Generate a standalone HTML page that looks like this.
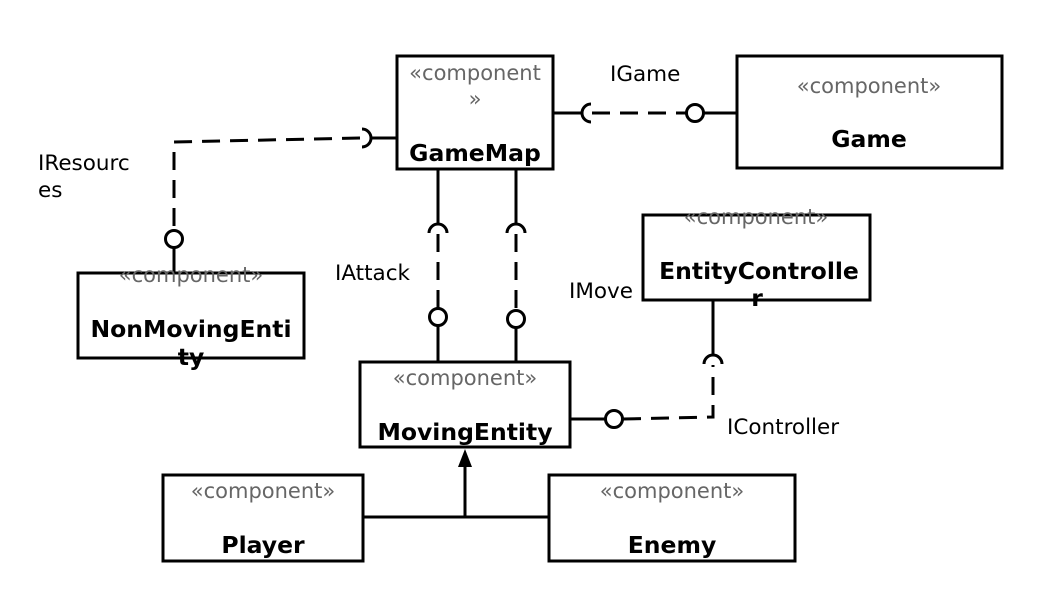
<!DOCTYPE html>
<html><head><style>
html,body{margin:0;padding:0;background:#fff;}
svg{display:block;}
.st{font-family:"DejaVu Sans","Liberation Sans",sans-serif;font-size:21px;fill:#666;text-anchor:middle;}
.nm{font-family:"DejaVu Sans","Liberation Sans",sans-serif;font-size:23.5px;font-weight:bold;fill:#000;text-anchor:middle;}
.lb{font-family:"DejaVu Sans","Liberation Sans",sans-serif;font-size:21.5px;fill:#000;}
</style></head><body>
<svg width="1057" height="595" viewBox="0 0 1057 595" xmlns="http://www.w3.org/2000/svg">
<g fill="none" stroke="#000" stroke-width="3">
<rect x="397" y="56" width="156" height="113"/>
<rect x="737" y="56" width="265" height="112"/>
<rect x="643" y="215" width="227" height="85"/>
<rect x="78" y="273" width="226" height="85"/>
<rect x="360" y="362" width="210" height="85"/>
<rect x="163" y="475" width="200" height="86"/>
<rect x="549" y="475" width="246" height="86"/>
</g>
<g fill="none" stroke="#000" stroke-width="3">
<line x1="553" y1="113" x2="582" y2="113"/>
<path d="M591 104 A9 9 0 0 0 591 122"/>
<line x1="592" y1="113" x2="686" y2="113" stroke-dasharray="18,10"/>
<circle cx="695" cy="113" r="8.5"/>
<line x1="704" y1="113" x2="737" y2="113"/>
<line x1="397" y1="138" x2="372" y2="138"/>
<path d="M362 129 A9 9 0 0 1 362 147"/>
<polyline points="360,138 174,142 174,230" stroke-dasharray="18,10"/>
<circle cx="174" cy="239" r="8.5"/>
<line x1="174" y1="248" x2="174" y2="273"/>
<line x1="438" y1="169" x2="438" y2="223"/>
<path d="M429 233 A9 9 0 0 1 447 233"/>
<line x1="438" y1="234" x2="438" y2="308" stroke-dasharray="18,10"/>
<circle cx="438" cy="317" r="8.5"/>
<line x1="438" y1="326" x2="438" y2="362"/>
<line x1="516" y1="169" x2="516" y2="223"/>
<path d="M507 233 A9 9 0 0 1 525 233"/>
<line x1="516" y1="234" x2="516" y2="310" stroke-dasharray="18,10"/>
<circle cx="516" cy="319" r="8.5"/>
<line x1="516" y1="328" x2="516" y2="362"/>
<line x1="570" y1="419" x2="605" y2="419"/>
<circle cx="614" cy="419" r="8.5"/>
<polyline points="623,419 713,417 713,365" stroke-dasharray="18,10"/>
<path d="M704 364 A9 9 0 0 1 722 364"/>
<line x1="713" y1="300" x2="713" y2="354"/>
<line x1="465" y1="465" x2="465" y2="517"/>
<line x1="363" y1="517" x2="549" y2="517"/>
</g>
<polygon points="465,449 458,467 472,467" fill="#000"/>
<text class="st" x="475" y="80">«component</text>
<text class="st" x="475" y="106">»</text>
<text class="nm" x="475" y="161">GameMap</text>
<text class="st" x="869" y="93">«component»</text>
<text class="nm" x="869" y="147">Game</text>
<text class="st" x="756" y="224">«component»</text>
<text class="nm" x="759" y="279">EntityControlle</text>
<text class="nm" x="757" y="306">r</text>
<text class="st" x="191" y="282">«component»</text>
<text class="nm" x="191" y="337">NonMovingEnti</text>
<text class="nm" x="191" y="365">ty</text>
<text class="st" x="465" y="385">«component»</text>
<text class="nm" x="465" y="440">MovingEntity</text>
<text class="st" x="263" y="498">«component»</text>
<text class="nm" x="263" y="553">Player</text>
<text class="st" x="672" y="498">«component»</text>
<text class="nm" x="672" y="553">Enemy</text>
<text class="lb" x="610" y="81">IGame</text>
<text class="lb" x="38" y="170">IResourc</text>
<text class="lb" x="38" y="197">es</text>
<text class="lb" x="335" y="280">IAttack</text>
<text class="lb" x="569" y="298">IMove</text>
<text class="lb" x="727" y="434">IController</text>
</svg>
</body></html>
